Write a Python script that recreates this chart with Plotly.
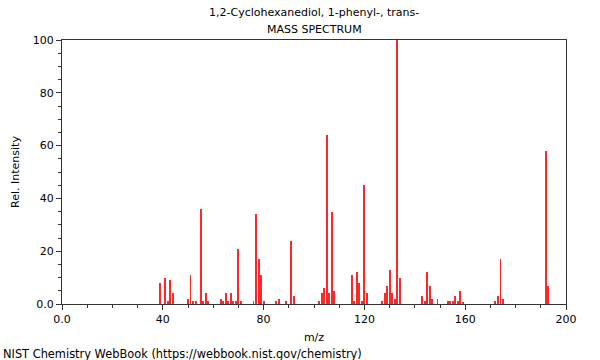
import plotly.graph_objects as go

mz = [39, 41, 42, 43, 44, 50, 51, 52, 53, 55, 56, 57, 58, 63, 64, 65, 66, 67, 68, 69,
      70, 71, 76, 77, 78, 79, 80, 85, 86, 89, 91, 92, 102, 103, 104, 105, 106, 107, 108,
      115, 116, 117, 118, 119, 120, 121, 127, 128, 129, 130, 131, 132, 133, 134,
      143, 144, 145, 146, 147, 149, 153, 154, 155, 156, 157, 158, 159,
      172, 173, 174, 175, 192, 193]
intensity = [8, 10, 1, 9, 4, 2, 11, 1, 1, 36, 1, 4, 1, 2, 1, 4, 1, 4, 1, 1,
             21, 1, 1, 34, 17, 11, 1, 1, 2, 1, 24, 3, 1, 4, 6, 64, 4, 35, 5,
             11, 1, 12, 8, 1, 45, 4, 1, 4, 7, 13, 4, 2, 100, 10,
             3, 1, 12, 7, 2, 2, 1, 1, 1, 3, 1, 5, 0.5,
             1, 3, 17, 2, 58, 7]

x_ticks = [0, 40, 80, 120, 160, 200]
x_labels = ["0.0", "40", "80", "120", "160", "200"]
y_ticks = [0, 20, 40, 60, 80, 100]
y_labels = ["0.0", "20", "40", "60", "80", "100"]

title_line1 = "1,2-Cyclohexanediol, 1-phenyl-, trans-"
title_line2 = "MASS SPECTRUM"
footer = "NIST Chemistry WebBook (https://webbook.nist.gov/chemistry)"

font = "DejaVu Sans"
axis_color = "#333333"

fig = go.Figure()
fig.add_trace(go.Bar(x=mz, y=intensity, width=0.38,
                     marker=dict(color="rgb(255,40,40)", line=dict(width=0)),
                     hoverinfo="x+y"))

fig.update_layout(
    width=600, height=360,
    margin=dict(l=62, r=34, t=40, b=56),
    paper_bgcolor="white", plot_bgcolor="white",
    showlegend=False,
    font=dict(family=font, size=11, color="black"),
    bargap=0,
    annotations=[
        dict(text=title_line1, x=0.5, y=1, xref="paper", yref="paper",
             xanchor="center", yanchor="bottom", yshift=19, showarrow=False,
             font=dict(family=font, size=11)),
        dict(text=title_line2, x=0.5, y=1, xref="paper", yref="paper",
             xanchor="center", yanchor="bottom", yshift=2, showarrow=False,
             font=dict(family=font, size=11)),
        dict(text=footer, x=-62/504, y=0, xref="paper", yref="paper",
             xanchor="left", yanchor="top", yshift=-41, xshift=1, showarrow=False,
             font=dict(family=font, size=11.4)),
    ],
)

fig.update_xaxes(
    range=[0, 200], tickvals=x_ticks, ticktext=x_labels,
    ticks="outside", ticklen=5, tickwidth=1, tickcolor=axis_color,
    minor=dict(dtick=10, tick0=0, ticks="outside", ticklen=3, tickcolor=axis_color, showgrid=False),
    showline=True, linecolor=axis_color, linewidth=1, mirror=True,
    showgrid=False, zeroline=False,
    title=dict(text="m/z", font=dict(family=font, size=11), standoff=8),
    tickfont=dict(family=font, size=11),
)
fig.update_yaxes(
    range=[0, 100], tickvals=y_ticks, ticktext=y_labels,
    ticks="outside", ticklen=5, tickwidth=1, tickcolor=axis_color,
    minor=dict(dtick=5, tick0=0, ticks="outside", ticklen=3, tickcolor=axis_color, showgrid=False),
    showline=True, linecolor=axis_color, linewidth=1, mirror=True,
    showgrid=False, zeroline=False,
    title=dict(text="Rel. Intensity", font=dict(family=font, size=11), standoff=10),
    tickfont=dict(family=font, size=11),
)

fig.write_html("out.html", config={"displayModeBar": False},
               post_script="document.body.style.margin='0';")
